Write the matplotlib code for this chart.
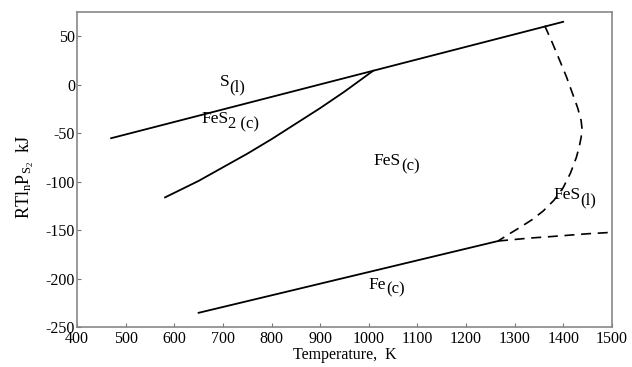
import numpy as np
import matplotlib.pyplot as plt

plt.rcParams['font.family'] = ['Liberation Serif', 'DejaVu Serif']
plt.rcParams['mathtext.fontset'] = 'custom'
plt.rcParams['mathtext.rm'] = 'Liberation Serif'
plt.rcParams['mathtext.it'] = 'Liberation Serif:italic'
plt.rcParams['axes.unicode_minus'] = False

# S(l) / FeS2 boundary
s_T = [470, 1400]
s_G = [-55, 65]
# FeS2 / FeS boundary
fes2_T = [581, 650, 700, 750, 800, 850, 900, 950, 1009]
fes2_G = [-116, -99, -85, -71, -56, -40, -24, -7, 14.5]
# Fe / FeS boundary
fe_T = [650, 1266]
fe_G = [-235, -161]
# Fe / FeS(l) boundary (dashed)
fel_T = [1266, 1330, 1386, 1450, 1502]
fel_G = [-161, -158, -156, -153.5, -152]
# FeS(c) / FeS(l) boundary (dashed)
melt_T = [1362, 1378, 1393, 1407, 1420, 1430, 1437, 1439, 1437, 1433, 1427, 1415, 1400, 1381, 1359, 1336, 1311, 1288, 1266]
melt_G = [61, 43, 25, 8, -10, -24, -37, -46, -54, -64, -75, -91, -106, -119, -130, -139, -147, -154, -161]

fig, ax = plt.subplots(figsize=(6.32, 3.67), dpi=100)
fig.subplots_adjust(left=0.122, right=0.968, top=0.967, bottom=0.108)

ax.plot(s_T, s_G, color='black', lw=1.3)
ax.plot(fes2_T, fes2_G, color='black', lw=1.3)
ax.plot(fe_T, fe_G, color='black', lw=1.3)
ax.plot(fel_T, fel_G, color='black', lw=1.2, ls=(0, (6, 4)))
ax.plot(melt_T, melt_G, color='black', lw=1.2, ls=(0, (6, 4)))


def phase_label(x, y, base, sub, size=12.5):
    t = ax.text(x, y, base, fontsize=size, ha='right', va='baseline')
    ax.annotate(sub, xy=(1, 0.17), xycoords=t, fontsize=size - 0.5,
                ha='left', va='center')


phase_label(713, -1, 'S', '(l)')
phase_label(711, -39, 'FeS', '2 (c)')
phase_label(1066, -83, 'FeS', '(c)')
phase_label(1436, -118, 'FeS', '(l)')
phase_label(1036, -210, 'Fe', '(c)')

ax.set_xlim(400, 1500)
ax.set_ylim(-250, 75)
ax.set_xticks(np.arange(400, 1501, 100))
ax.set_yticks(np.arange(-250, 51, 50))
ax.tick_params(direction='in', length=3, labelsize=11.5, color='#777777', pad=1.5)
ax.tick_params(axis='x', pad=2.5)
for sp in ax.spines.values():
    sp.set_color('#888888')
    sp.set_linewidth(1.2)

ax.set_xlabel('Temperature,  K', fontsize=11.5, labelpad=0)
ax.set_ylabel(r'$\mathrm{RTl_nP_{S_2}}$  kJ', fontsize=13)
ax.yaxis.set_label_coords(-0.076, 0.476)

fig.savefig('out.png', dpi=100)
